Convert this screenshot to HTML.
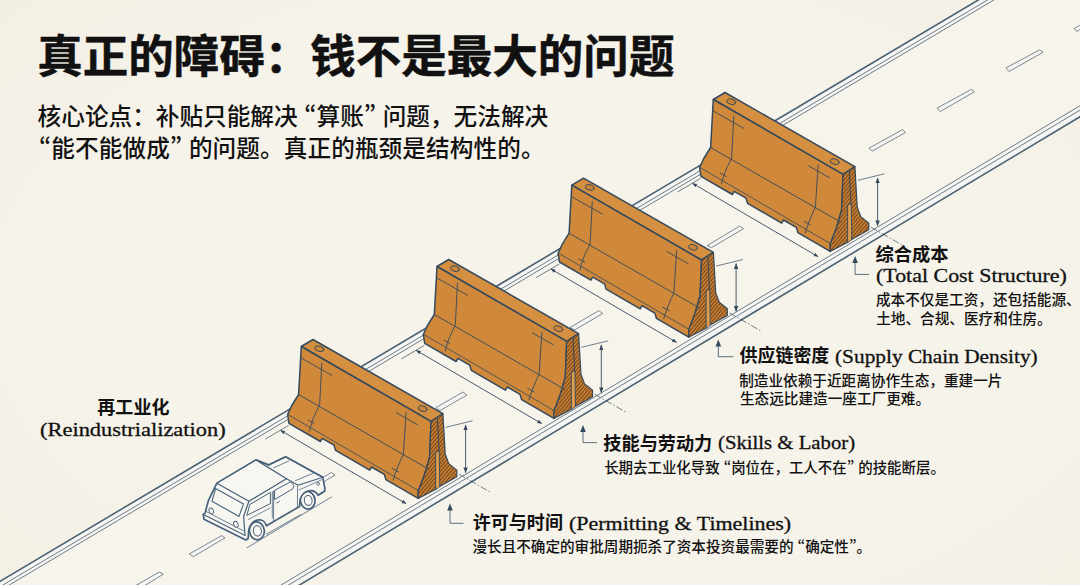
<!DOCTYPE html>
<html lang="zh-CN">
<head>
<meta charset="utf-8">
<title>真正的障碍：钱不是最大的问题</title>
<style>
html,body{margin:0;padding:0;}
body{width:1080px;height:585px;overflow:hidden;background:#f5f2e9 radial-gradient(ellipse 75% 80% at 52% 52%, #f6f3eb 0%, #f6f3ea 55%, #f4f0e6 85%, #f2eee3 100%);position:relative;
  font-family:"Liberation Sans","Noto Sans CJK SC",sans-serif;color:#111;}
#art{position:absolute;left:0;top:0;width:1080px;height:585px;}
.t{position:absolute;white-space:nowrap;line-height:1;margin:0;}
h1.t{font-size:45.52px;font-weight:700;left:37.2px;top:34.6px;-webkit-text-stroke:0.5px #111;}
.sub{font-size:23.65px;font-weight:500;left:37.6px;}
.lab{font-size:18px;font-weight:700;}
.en{font-family:"Liberation Serif",serif;font-weight:400;font-size:19.5px;transform-origin:0 50%;-webkit-text-stroke:0.3px #111;margin-top:1px;}
.d{font-size:14.5px;font-weight:500;}
.q{font-family:"Noto Sans CJK SC",sans-serif;font-feature-settings:"pwid";}
</style>
</head>
<body>
<svg id="art" viewBox="0 0 1080 585" width="1080" height="585">
<defs>
<pattern id="hatch" width="2.7" height="2.7" patternUnits="userSpaceOnUse" patternTransform="rotate(-50)"><rect width="2.7" height="2.7" fill="#cf8435"/><line x1="0" y1="0.6" x2="2.7" y2="0.6" stroke="#6a4019" stroke-width="1.05"/></pattern>
<marker id="ah" viewBox="0 0 10 10" refX="9" refY="5" markerWidth="6.4" markerHeight="6.4" orient="auto-start-reverse"><path d="M0,1.2 L10,5 L0,8.8 Z" fill="#34495c"/></marker>
<marker id="as" viewBox="0 0 10 10" refX="9" refY="5" markerWidth="5.4" markerHeight="5.4" orient="auto-start-reverse"><path d="M0,1.2 L10,5 L0,8.8 Z" fill="#34495c"/></marker>
<g id="barrier" stroke-linejoin="round" stroke-linecap="round">
<polygon points="301.3,346.5 313,339.5 442.9,413.6 431,421.3" fill="#d58f41" stroke="#34495c" stroke-width="1.5"/>
<polygon points="301.3,346.5 431,421.3 429.6,457.1 424.4,475 418.2,491.2 418.2,498.4 385.9,479.6 384.3,474.4 371.5,467 369.7,470.1 335.6,450.4 334,445.2 322.2,438.4 320.4,441.5 289,423.3 287.6,414.5 291.5,406 298.6,394.5" fill="#d0883a" stroke="#34495c" stroke-width="1.5"/>
<polygon points="431,421.3 442.9,413.6 445.2,453.9 448.7,463.6 456.8,470.1 456.8,476.8 439.6,486.4 439.3,484 436,486 435.8,489.3 418.2,498.4 418.2,491.2 424.4,475 429.6,457.1" fill="url(#hatch)" stroke="#34495c" stroke-width="1.2"/>
<polygon points="435.6,489.3 435.6,452.4 439.2,450.6 439.8,486.4" fill="#dd9c50" stroke="#34495c" stroke-width="0.9"/>
<line x1="437.3" y1="417.4" x2="439" y2="450.8" stroke="#34495c" stroke-width="1"/>
<g fill="none" stroke="#34495c" stroke-width="0.9">
<path d="M298.6,394.5 L428.8,469.2"/>
<path d="M288.2,414.6 L418.4,490.6" stroke-width="0.8"/>
<path d="M301.6,358.2 L331.7,375.3"/>
<path d="M396.5,412.8 L417.5,424.8"/>
<path d="M321.8,363 L319.6,405.5 C316,412 312,420 309.5,431"/>
<path d="M406.2,412 L403.4,454 C400,462 396,470 393.2,480"/>
<path d="M308.3,420.2 L314.2,423.6 M392.2,468.4 L398.6,472"/>
</g>
<ellipse cx="319.2" cy="348.7" rx="4.6" ry="2.7" transform="rotate(14 319.2 348.7)" fill="#cc8538" stroke="#34495c" stroke-width="0.9"/>
<ellipse cx="422.6" cy="408.6" rx="4.6" ry="2.7" transform="rotate(14 422.6 408.6)" fill="#cc8538" stroke="#34495c" stroke-width="0.9"/>
</g>
<g id="dims" fill="none" stroke="#34495c" stroke-width="0.9">
<line x1="280.6" y1="430.4" x2="406" y2="503.6" marker-start="url(#as)" marker-end="url(#as)"/>
<line x1="265.5" y1="439" x2="288.6" y2="425.4" stroke-width="0.7"/>
<line x1="465.6" y1="425" x2="465.6" y2="472.6" marker-start="url(#ah)" marker-end="url(#ah)"/>
<line x1="445.8" y1="427.3" x2="472.5" y2="420.8" stroke-width="0.7"/>
<path d="M459,474.2 L490,492" stroke-width="0.7" stroke-dasharray="7 2 1.5 2"/>
</g>
</defs>
<polygon points="-20,593.2 1100,-72.3 1100,104.7 -20,776.7" fill="#f7f4ec"/>
<polygon points="-20,593.2 1100,-72.3 1100,-63.1 -20,602.4" fill="#f5f6f3"/>
<polygon points="-20,765.7 1100,93.7 1100,104.7 -20,776.7" fill="#f5f6f3"/>
<g stroke="#4a6073" fill="none">
<line x1="-20" y1="593.2" x2="1100" y2="-72.3" stroke-width="1.6"/>
<line x1="-20" y1="598.6" x2="1100" y2="-66.9" stroke-width="0.9" stroke="#5d6c77"/>
<line x1="-20" y1="602.4" x2="1100" y2="-63.1" stroke-width="0.9" stroke="#5d6c77"/>
<line x1="-20" y1="765.7" x2="1100" y2="93.7" stroke-width="0.9" stroke="#5d6c77"/>
<line x1="-20" y1="770.1" x2="1100" y2="98.1" stroke-width="0.9" stroke="#5d6c77"/>
<line x1="-20" y1="776.7" x2="1100" y2="104.7" stroke-width="1.6"/>
</g>
<g fill="#f5f6f3" stroke="#5d6c77" stroke-width="0.8" stroke-linejoin="round">
<polygon points="136.6,585 159.4,572 163.3,574.2 144,586"/>
<polygon points="189.4,553.9 221.7,535.6 225,537.8 193.3,556.7"/>
<polygon points="300,491 331.4,472.4 335,475.1 304,493.6"/>
<polygon points="436,407.6 463.1,392 466.9,395 440,410.6"/>
<polygon points="570,327.5 598.7,310.7 602.8,313.5 574.7,329.9"/>
<polygon points="707.3,245.5 739.6,226.1 743.5,228.7 711.5,247.6"/>
<polygon points="869.1,148.1 902.6,129.6 905.5,132.5 872,151.2"/>
<polygon points="937.1,108.1 971.3,89.4 974.4,91.8 940.2,111.5"/>
<polygon points="1006,67.9 1039.6,49.9 1043.1,52.3 1008.9,71.5"/>
<polygon points="1074.3,28.4 1090,19.8 1092,22.6 1076.7,31.5"/>
</g>
<g id="car" fill="#f8f6f0" stroke="#48627c" stroke-width="1.7" stroke-linejoin="round" stroke-linecap="round">
<path d="M247,547.8 L331.4,497" fill="none" stroke-width="0.8"/>
<!-- front wheel (behind body) -->
<ellipse cx="307.7" cy="500.3" rx="7.3" ry="8.8" transform="rotate(-8 307.7 500.3)"/>
<!-- body silhouette -->
<path d="M216.9,483.2 L256,459.9 L268.6,464.9 L285.6,456.8 L322.8,477.3 L324.6,486.8 L324.8,491 L318,495.2 C314,488 303,489 300,500 L299.6,506.4 L266.5,525.8 C264,516.5 251,518 248.6,531 L248.2,538.6 L245.8,540 L204,519.3 L203.2,514.3 L205,513.4 L208.5,500.3 Z"/>
<!-- roof -->
<path d="M216.9,483.2 L256,459.9 L286.5,478.7 L248.9,501.2 Z" stroke-width="1.3"/>
<!-- hood -->
<path d="M268.6,464.9 L285.6,456.8 L322.8,477.3 L298.2,485.2 L286.5,478.7" fill="none" stroke-width="1.2"/>
<path d="M273.6,467.9 L288.8,461 M295.5,480.6 L313.2,473.2" fill="none" stroke-width="0.8"/>
<!-- rear face -->
<path d="M248.9,501.2 L243.6,516.5 L245,534.8" fill="none" stroke-width="1.2"/>
<path d="M215.6,488.6 L243.5,503.9 L239,516.4 L212,501.2 Z" stroke-width="1.1"/>
<path d="M203.4,514.6 L245.2,535.6" fill="none" stroke-width="1.1"/>
<path d="M205.6,511.2 L243.8,531" fill="none" stroke-width="0.8"/>
<ellipse cx="211.3" cy="511" rx="2.1" ry="3.1" transform="rotate(-25 211.3 511)" stroke-width="0.9"/>
<ellipse cx="235.9" cy="524.3" rx="2.1" ry="3.1" transform="rotate(-25 235.9 524.3)" stroke-width="0.9"/>
<!-- side windows -->
<path d="M250.2,504.3 L270.4,492.4 L270.4,503.6 L247.2,515.2 Z" stroke-width="1"/>
<path d="M274.9,490.2 L290.6,481.8 L294,485.6 L292.8,488.8 L274.9,499.4 Z" stroke-width="1"/>
<path d="M272.3,491.6 L272.3,518 M273.6,491 L273.6,521.4 M297.6,486.4 L297.4,507.4" fill="none" stroke-width="0.8"/>
<path d="M276.6,503 L279.4,501.4" fill="none" stroke-width="0.9"/>
<path d="M248.4,519.5 L270,508 M299,490 L322,479.6" fill="none" stroke-width="0.7"/>
<circle cx="318.1" cy="483.7" r="1.4" stroke-width="0.8"/>
<path d="M318.6,495 L324.6,491.2 L324.6,487" fill="none" stroke-width="1.1"/>
<!-- rear wheel -->
<ellipse cx="256.9" cy="530.8" rx="7.4" ry="9" transform="rotate(-8 256.9 530.8)"/>
<ellipse cx="257.4" cy="530.9" rx="4" ry="5.2" transform="rotate(-8 257.4 530.9)" stroke-width="1"/>
<ellipse cx="308.2" cy="500.4" rx="3.9" ry="5" transform="rotate(-8 308.2 500.4)" stroke-width="1"/>
<path d="M266.4,534.2 L300.6,514.6" fill="none" stroke-width="0.8"/>
</g>

<use href="#dims" transform="translate(412 -247)"/>
<use href="#dims" transform="translate(270.5 -161.3)"/>
<use href="#dims" transform="translate(135.7 -80)"/>
<use href="#dims" transform="translate(0 0)"/>
<use href="#barrier" transform="translate(412 -247)"/>
<use href="#barrier" transform="translate(270.5 -161.3)"/>
<use href="#barrier" transform="translate(135.7 -80)"/>
<use href="#barrier" transform="translate(0 0)"/>
<g fill="none" stroke="#4a6073" stroke-width="0.9">
<path d="M450,508 L450,523.3 L463.5,523.3"/>
<path d="M450,503.5 L452.8,510.5 L447.2,510.5 Z" fill="#34495c" stroke="none"/>
<path d="M583,429.5 L583,442.6 L597,442.6"/>
<path d="M583,425.0 L585.8,432.0 L580.2,432.0 Z" fill="#34495c" stroke="none"/>
<path d="M718.3,344 L718.3,356.7 L733.3,356.7"/>
<path d="M718.3,339.5 L721.0999999999999,346.5 L715.5,346.5 Z" fill="#34495c" stroke="none"/>
<path d="M855.1,260.5 L855.1,274.4 L869,274.4"/>
<path d="M855.1,256.0 L857.9,263.0 L852.3000000000001,263.0 Z" fill="#34495c" stroke="none"/>
</g>
</svg>

<h1 class="t">真正的障碍：钱不是最大的问题</h1>
<p class="t sub" style="top:103.65px;">核心论点：补贴只能解决 <span class="q">“</span>算账<span class="q">”</span> 问题，无法解决</p>
<p class="t sub" style="top:136.05px;left:38.9px;letter-spacing:0.075px;"><span class="q">“</span>能不能做成<span class="q">”</span> 的问题。真正的瓶颈是结构性的。</p>

<p id="l0cn" class="t lab">再工业化</p>
<p id="l0en" class="t en">(Reindustrialization)</p>

<p id="l4cn" class="t lab">综合成本</p>
<p id="l4en" class="t en">(Total Cost Structure)</p>
<p id="l4d1" class="t d">成本不仅是工资，还包括能源、</p>
<p id="l4d2" class="t d">土地、合规、医疗和住房。</p>

<p id="l3cn" class="t lab">供应链密度</p>
<p id="l3en" class="t en">(Supply Chain Density)</p>
<p id="l3d1" class="t d">制造业依赖于近距离协作生态，重建一片</p>
<p id="l3d2" class="t d">生态远比建造一座工厂更难。</p>

<p id="l2cn" class="t lab">技能与劳动力</p>
<p id="l2en" class="t en">(Skills &amp; Labor)</p>
<p id="l2d" class="t d">长期去工业化导致 <span class="q">“</span>岗位在，工人不在<span class="q">”</span> 的技能断层。</p>

<p id="l1cn" class="t lab">许可与时间</p>
<p id="l1en" class="t en">(Permitting &amp; Timelines)</p>
<p id="l1d" class="t d">漫长且不确定的审批周期扼杀了资本投资最需要的 <span class="q">“</span>确定性<span class="q">”</span>。</p>
<style id="fit">
#l0cn{left:97.32px;top:399.38px;font-size:18.05px;}
#l0en{left:40.41px;top:419.34px;font-size:19.50px;transform:scaleX(1.1509);}
#l4cn{left:875.56px;top:245.50px;font-size:18.24px;}
#l4en{left:876.45px;top:265.12px;font-size:19.50px;transform:scaleX(1.1241);}
#l4d1{left:875.93px;top:293.13px;font-size:14.63px;}
#l4d2{left:876.16px;top:311.58px;font-size:14.63px;}
#l3cn{left:739.56px;top:348.09px;font-size:17.97px;}
#l3en{left:834.75px;top:346.39px;font-size:19.50px;transform:scaleX(1.0940);}
#l3d1{left:739.15px;top:374.49px;font-size:14.64px;}
#l3d2{left:739.91px;top:392.27px;font-size:14.64px;}
#l2cn{left:603.33px;top:434.65px;font-size:18.17px;}
#l2en{left:717.73px;top:431.70px;font-size:19.50px;transform:scaleX(1.0639);}
#l2d{left:604.15px;top:459.77px;font-size:14.44px;}
#l1cn{left:472.76px;top:514.10px;font-size:18.05px;}
#l1en{left:568.68px;top:513.31px;font-size:19.50px;transform:scaleX(1.1268);}
#l1d{left:472.46px;top:539.39px;font-size:14.60px;}
</style>
</body>
</html>
